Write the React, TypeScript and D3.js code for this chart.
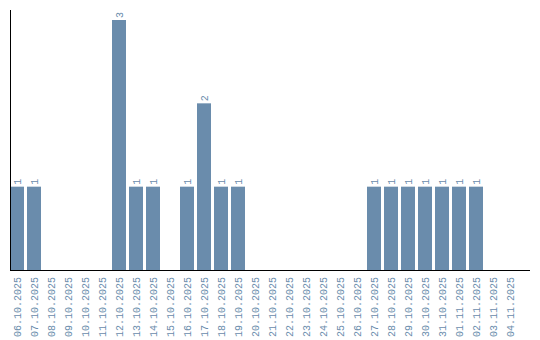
import React from "react";
import * as d3 from "d3";

const dates = [
  "06.10.2025", "07.10.2025", "08.10.2025", "09.10.2025", "10.10.2025",
  "11.10.2025", "12.10.2025", "13.10.2025", "14.10.2025", "15.10.2025",
  "16.10.2025", "17.10.2025", "18.10.2025", "19.10.2025", "20.10.2025",
  "21.10.2025", "22.10.2025", "23.10.2025", "24.10.2025", "25.10.2025",
  "26.10.2025", "27.10.2025", "28.10.2025", "29.10.2025", "30.10.2025",
  "31.10.2025", "01.11.2025", "02.11.2025", "03.11.2025", "04.11.2025",
];
const counts = [
  1, 1, 0, 0, 0,
  0, 3, 1, 1, 0,
  1, 2, 1, 1, 0,
  0, 0, 0, 0, 0,
  0, 1, 1, 1, 1,
  1, 1, 1, 0, 0,
];

const W = 540;
const H = 340;
const left = 10;
const bottom = 270;
const top = 20;
const barColor = "#6a8cac";
const textColor = "#6a8cac";
const font = "'Liberation Mono', monospace";

export default function App() {
  const x = d3
    .scaleBand<string>()
    .domain(dates)
    .range([left, left + dates.length * 17 - 3])
    .paddingInner(3 / 17)
    .paddingOuter(0);
  const y = d3.scaleLinear().domain([0, 3]).range([bottom, top]);

  return (
    <svg
      width={W}
      height={H}
      style={{ position: "absolute", left: 0, top: 0, display: "block" }}
    >
      {dates.map((d, i) =>
        counts[i] > 0 ? (
          <g key={d}>
            <rect
              x={x(d)}
              y={y(counts[i])}
              width={x.bandwidth()}
              height={bottom - y(counts[i])}
              fill={barColor}
            />
            <text
              transform={`translate(${(x(d) as number) + x.bandwidth() / 2 + 3.5},${y(counts[i]) - 2}) rotate(-90)`}
              fontFamily={font}
              fontSize={10}
              fill={textColor}
              textAnchor="start"
            >
              {counts[i]}
            </text>
          </g>
        ) : null
      )}
      {dates.map((d) => (
        <text
          key={"l" + d}
          transform={`translate(${(x(d) as number) + x.bandwidth() / 2 + 3.5},${bottom + 7}) rotate(-90)`}
          fontFamily={font}
          fontSize={10}
          fill={textColor}
          textAnchor="end"
        >
          {d}
        </text>
      ))}
      <line x1={10.5} x2={10.5} y1={10} y2={bottom} stroke="#000" strokeWidth={1} />
      <line x1={10} x2={530} y1={bottom + 0.5} y2={bottom + 0.5} stroke="#000" strokeWidth={1} />
    </svg>
  );
}
